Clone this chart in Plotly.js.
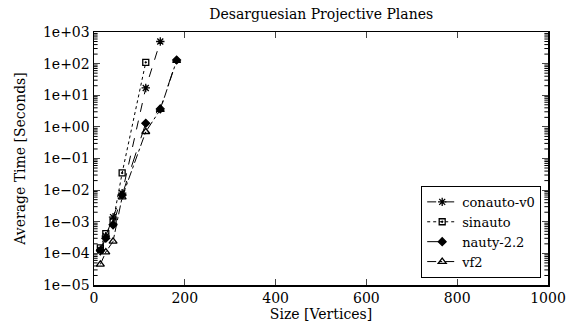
<!DOCTYPE html>
<html><head><meta charset="utf-8">
<script src="https://cdn.plot.ly/plotly-3.0.1.min.js"></script>
<style>html,body{margin:0;padding:0;background:#fff;}#c{width:566px;height:322px;}</style>
</head><body><div id="c"></div>
<script>
// Sizes of incidence graphs of Desarguesian projective planes
var conautoX = [14, 26, 42, 62, 114, 146];
var conautoY = [1.3e-4, 3.5e-4, 1.4e-3, 8e-3, 17, 500];
var sinautoX = [14, 26, 42, 62, 114];
var sinautoY = [1.5e-4, 4.2e-4, 1.0e-3, 3.5e-2, 110];
var nautyX = [14, 26, 42, 62, 114, 146, 182];
var nautyY = [1.2e-4, 3.0e-4, 8e-4, 7e-3, 1.3, 3.7, 130];
var vf2X = [14, 26, 42, 62, 114, 146, 182];
var vf2Y = [4.5e-5, 1.1e-4, 2.4e-4, 6e-3, 0.7, 3.5, 125];
var yTickVals = [1e-5, 1e-4, 1e-3, 1e-2, 1e-1, 1e0, 1e1, 1e2, 1e3];
var yTickText = ["1e\u221205", "1e\u221204", "1e\u221203", "1e\u221202", "1e\u221201", "1e+00", "1e+01", "1e+02", "1e+03"];
var xTickVals = [0, 200, 400, 600, 800, 1000];

// minor tick marks (2..9 within each decade), drawn on both sides through the y scale
var yMinor = [];
for (var d = -5; d < 3; d++) { for (var k = 2; k <= 9; k++) { yMinor.push(k * Math.pow(10, d)); } }
var shapes = [];
yMinor.forEach(function (v) {
  shapes.push({type: 'line', xref: 'paper', yref: 'y', x0: 0, x1: 0.008, y0: v, y1: v, line: {color: '#000', width: 1}});
  shapes.push({type: 'line', xref: 'paper', yref: 'y', x0: 0.992, x1: 1, y0: v, y1: v, line: {color: '#000', width: 1}});
});

var F = "DejaVu Serif, serif";
var FS = 14;
function tr(name, x, y, dash, sym, sz) {
  return {x: x, y: y, name: name, type: 'scatter', mode: 'lines+markers',
    line: {color: '#000', width: 1, dash: dash},
    marker: {symbol: sym, size: sz, color: '#000', line: {color: '#000', width: 1.3}}};
}
var data = [
  tr('conauto-v0', conautoX, conautoY, 'dash', 'asterisk-open', 7),
  tr('sinauto', sinautoX, sinautoY, 'dot', 'square-open-dot', 6),
  tr('nauty-2.2', nautyX, nautyY, 'longdash', 'diamond', 6),
  tr('vf2', vf2X, vf2Y, 'dashdot', 'triangle-up-open', 7)
];
var layout = {
  width: 566, height: 322,
  margin: {l: 94, r: 18, t: 32, b: 37},
  paper_bgcolor: '#fff', plot_bgcolor: '#fff',
  font: {family: F, size: FS, color: '#000'},
  title: {text: 'Desarguesian Projective Planes', font: {family: F, size: FS}, x: 0.5675, xanchor: 'center', y: 0.955, yanchor: 'middle'},
  xaxis: {range: [0, 1000], tickvals: xTickVals, ticks: 'inside', ticklen: 6, mirror: 'ticks', showline: true, linecolor: '#000', linewidth: 1.5,
    showgrid: false, zeroline: false, tickfont: {family: F, size: FS},
    title: {text: 'Size [Vertices]', font: {family: F, size: FS}, standoff: 0}},
  yaxis: {type: 'log', range: [-5, 3], tickvals: yTickVals, ticktext: yTickText, ticks: 'inside', ticklen: 6, mirror: 'ticks',
    showline: true, linecolor: '#000', linewidth: 1.5, showgrid: false, zeroline: false, tickfont: {family: F, size: FS},
    title: {text: 'Average Time [Seconds]', font: {family: F, size: FS}, standoff: 14}},
  shapes: shapes,
  legend: {x: 0.985, xanchor: 'right', y: 0.028, yanchor: 'bottom', bordercolor: '#000', borderwidth: 1, bgcolor: '#fff',
    font: {family: F, size: 13}, tracegroupgap: 0, itemwidth: 30},
  showlegend: true
};
Plotly.newPlot('c', data, layout, {displayModeBar: false, staticPlot: true});
</script></body></html>
